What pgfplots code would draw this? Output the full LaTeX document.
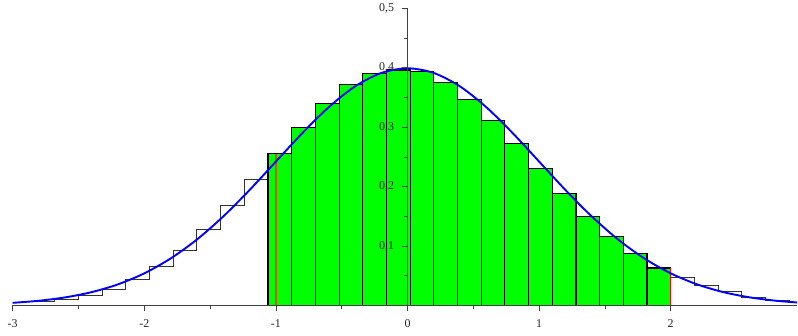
\documentclass[border=0pt]{standalone}
\usepackage{pgfplots}
\pgfplotsset{compat=1.18}
\usepackage{fontspec}
\setmainfont{Liberation Serif}

\definecolor{limitred}{RGB}{205,85,20}

% histogram: left edge of each bin and its height (bin width 0.18)
\def\histall{
(-3.04,0.003) (-2.86,0.006) (-2.68,0.010) (-2.50,0.017) (-2.32,0.027)
(-2.14,0.044) (-1.96,0.066) (-1.78,0.093) (-1.60,0.127) (-1.42,0.168)
(-1.24,0.212) (-1.06,0.256) (-0.88,0.300) (-0.70,0.340) (-0.52,0.371)
(-0.34,0.390) (-0.16,0.396) (0.02,0.394) (0.20,0.375) (0.38,0.347)
(0.56,0.311) (0.74,0.272) (0.92,0.230) (1.10,0.189) (1.28,0.150)
(1.46,0.116) (1.64,0.088) (1.82,0.063) (2.00,0.047) (2.18,0.033)
(2.36,0.023) (2.54,0.013) (2.72,0.009) (2.90,0.006) (3.08,0.006)
}

\begin{document}
\begin{tikzpicture}
  \begin{axis}[
    scale only axis,
    width=785.3bp, height=297.6bp,
    xmin=-3, xmax=2.96,
    ymin=0, ymax=0.5,
    axis lines=middle,
    axis line style={-, black!75, line width=0.6bp},
    axis on top,
    clip=false,
    hide obscured x ticks=false,
    hide obscured y ticks=false,
    tick align=outside,
    major tick length=6bp,
    minor tick length=3.5bp,
    tick style={black!75, line width=0.6bp},
    xtick={-3,-2,-1,0,1,2},
    xticklabels={-3,-2,-1,0,1,2},
    minor x tick num=1,
    ytick={0.1,0.2,0.3,0.4,0.5},
    yticklabels={{0,1},{0,2},{0,3},{0,4},{0,5}},
    minor ytick={0.05,0.15,0.25,0.35,0.45},
    ticklabel style={font=\fontsize{12}{14}\selectfont, text=black!85},
    xticklabel style={yshift=-5bp},
    yticklabel style={xshift=-4bp},
  ]

  % all bins, outline only
  \addplot[const plot mark left, black!80, line width=0.9bp, restrict x to domain=-3:2.96]
    coordinates {\histall};

  % bins between -1.06 and 2, filled
  \addplot[ybar interval, fill=green, draw=black, line width=1.1bp] coordinates {
    (-1.06,0.256) (-0.88,0.300) (-0.70,0.340) (-0.52,0.371) (-0.34,0.390)
    (-0.16,0.396) (0.02,0.394) (0.20,0.375) (0.38,0.347) (0.56,0.311)
    (0.74,0.272) (0.92,0.230) (1.10,0.189) (1.28,0.150) (1.46,0.116)
    (1.64,0.088) (1.82,0.063) (2.00,0.063)
  };

  % bounds of the interval
  \addplot[limitred, line width=1.3bp] coordinates {(-1.0,0.0) (-1.0,0.254)};
  \addplot[red, line width=1bp] coordinates {(2.0,0.0) (2.0,0.063)};

  % density of N(0,1)
  \addplot[blue, line width=1.9bp, smooth] coordinates {
    (-3.0,0.0044) (-2.8,0.0079) (-2.6,0.0136) (-2.4,0.0224) (-2.2,0.0355)
    (-2.0,0.0540) (-1.8,0.0790) (-1.6,0.1109) (-1.4,0.1497) (-1.2,0.1942)
    (-1.0,0.2420) (-0.8,0.2897) (-0.6,0.3332) (-0.4,0.3683) (-0.2,0.3910)
    (0.0,0.3989) (0.2,0.3910) (0.4,0.3683) (0.6,0.3332) (0.8,0.2897)
    (1.0,0.2420) (1.2,0.1942) (1.4,0.1497) (1.6,0.1109) (1.8,0.0790)
    (2.0,0.0540) (2.2,0.0355) (2.4,0.0224) (2.6,0.0136) (2.8,0.0079)
    (2.96,0.0050)
  };
  \end{axis}
  \useasboundingbox ([xshift=-12.7bp,yshift=-29.7bp]current axis.south west)
    rectangle ([yshift=7.7bp]current axis.north east);
\end{tikzpicture}
\end{document}
